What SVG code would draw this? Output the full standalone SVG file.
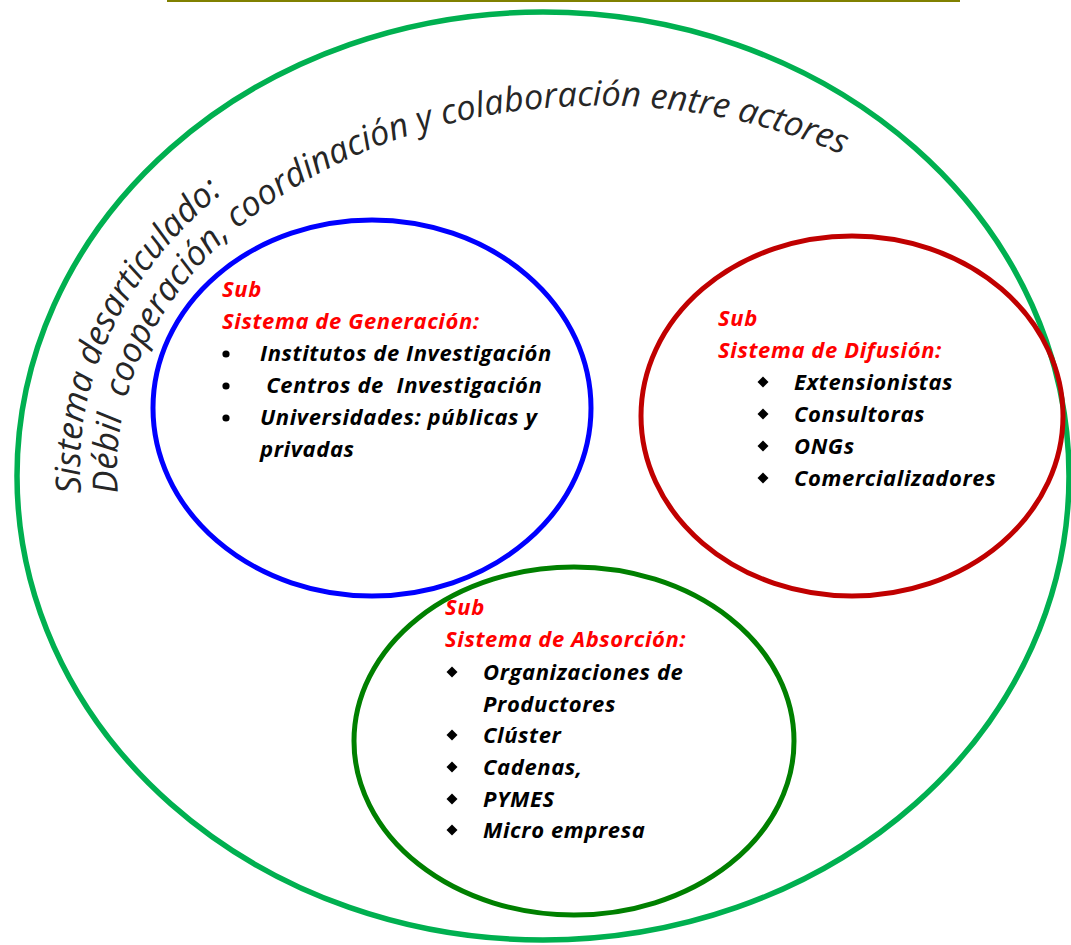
<svg xmlns="http://www.w3.org/2000/svg" xmlns:xlink="http://www.w3.org/1999/xlink" width="1071" height="945" viewBox="0 0 1071 945">
<style>
.ring{fill:none}
.arc{font-family:"Open Sans","Noto Sans",sans-serif;font-style:italic;font-weight:500;fill:#262626}
.t{font-family:"Open Sans","Noto Sans",sans-serif;font-style:italic;font-weight:bold;font-size:22px;letter-spacing:0.6px;fill:#000}
.h{fill:#FF0000}
</style>
<defs>
<path id="arc1" d="M 81,493 A 520 400 0 1 1 1119,493"/>
<path id="arc2" d="M 118,493 A 483 364 0 1 1 1082,493"/>
<polygon id="dia" points="0,-5.5 5.5,0 0,5.5 -5.5,0" fill="#000"/>
<circle id="dot" r="3.6" fill="#000"/>
</defs>
<rect width="1071" height="945" fill="#fff"/>
<line x1="167" y1="1" x2="960" y2="1" stroke="#808000" stroke-width="2"/>
<g id="outer">
<ellipse class="ring" cx="543" cy="476" rx="526" ry="464" stroke="#00B050" stroke-width="5.5"/>
<text class="arc" font-size="34.5"><textPath xlink:href="#arc1">Sistema desarticulado:</textPath></text>
<text class="arc" font-size="34.4" xml:space="preserve"><textPath xlink:href="#arc2">Débil  cooperación, coordinación y colaboración entre actores</textPath></text>
</g>
<g id="generacion">
<ellipse class="ring" cx="372" cy="408" rx="219" ry="188" stroke="#0000FF" stroke-width="5"/>
<text class="t h" x="222" y="297">Sub</text>
<text class="t h" x="222" y="329">Sistema de Generación:</text>
<use xlink:href="#dot" x="226" y="354"/>
<use xlink:href="#dot" x="226" y="386"/>
<use xlink:href="#dot" x="226" y="418"/>
<text class="t" x="260" y="361">Institutos de Investigación</text>
<text class="t" x="260" y="393" xml:space="preserve"> Centros de  Investigación</text>
<text class="t" x="260" y="425">Universidades: públicas y</text>
<text class="t" x="260" y="457">privadas</text>
</g>
<g id="difusion">
<ellipse class="ring" cx="852" cy="416" rx="211" ry="180" stroke="#C00000" stroke-width="5"/>
<text class="t h" x="718" y="326">Sub</text>
<text class="t h" x="718" y="358">Sistema de Difusión:</text>
<use xlink:href="#dia" x="763" y="382"/>
<use xlink:href="#dia" x="763" y="414"/>
<use xlink:href="#dia" x="763" y="446"/>
<use xlink:href="#dia" x="763" y="478"/>
<text class="t" x="794" y="390">Extensionistas</text>
<text class="t" x="794" y="422">Consultoras</text>
<text class="t" x="794" y="454">ONGs</text>
<text class="t" x="794" y="486">Comercializadores</text>
</g>
<g id="absorcion">
<ellipse class="ring" cx="574" cy="741" rx="220" ry="174" stroke="#008000" stroke-width="5"/>
<text class="t h" x="445" y="615">Sub</text>
<text class="t h" x="445" y="647">Sistema de Absorción:</text>
<use xlink:href="#dia" x="452" y="672"/>
<use xlink:href="#dia" x="452" y="735"/>
<use xlink:href="#dia" x="452" y="767"/>
<use xlink:href="#dia" x="452" y="799"/>
<use xlink:href="#dia" x="452" y="830"/>
<text class="t" x="483" y="680">Organizaciones de</text>
<text class="t" x="483" y="712">Productores</text>
<text class="t" x="483" y="743">Clúster</text>
<text class="t" x="483" y="775">Cadenas,</text>
<text class="t" x="483" y="807">PYMES</text>
<text class="t" x="483" y="838">Micro empresa</text>
</g>
<g id="connectors"/>
</svg>
